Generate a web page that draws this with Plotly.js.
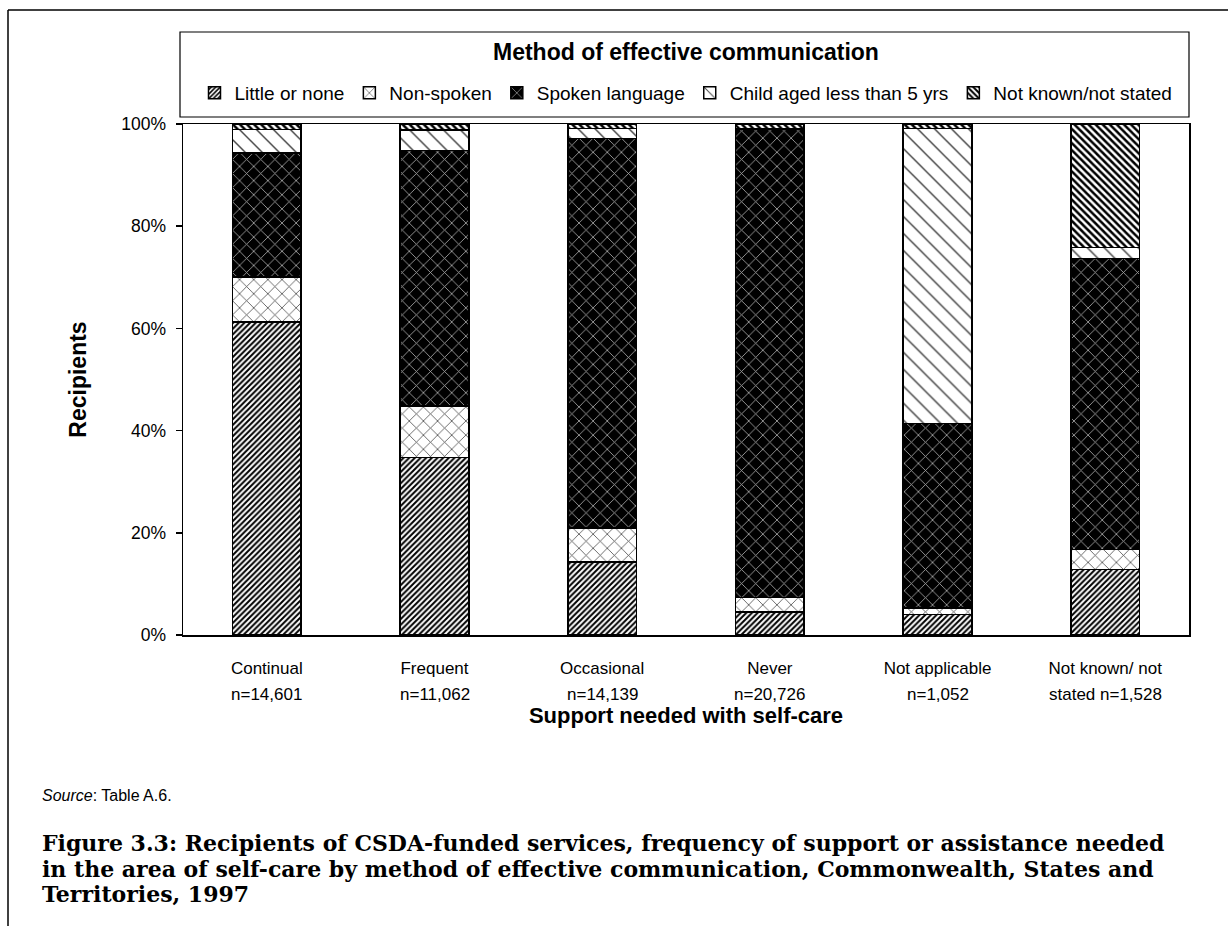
<!DOCTYPE html>
<html>
<head>
<meta charset="utf-8">
<script src="https://cdn.plot.ly/plotly-3.0.1.min.js"></script>
<style>html,body{margin:0;padding:0;background:#fff;}#chart{width:1228px;height:926px;}</style>
</head>
<body>
<div id="chart"></div>
<script>
// ---- data ----
const tickLine1 = ["Continual", "Frequent", "Occasional", "Never", "Not applicable", "Not known/ not"];
const tickLine2 = ["n=14,601", "n=11,062", "n=14,139", "n=20,726", "n=1,052", "stated n=1,528"];
const categories = ["Continual", "Frequent", "Occasional", "Never", "Not applicable", "Not known/not stated"];
const seriesNames = ["Little or none", "Non-spoken", "Spoken language", "Child aged less than 5 yrs", "Not known/not stated"];
const littleOrNone   = [61.3, 34.7, 14.3,  4.5,  4.0, 12.8];
const nonSpoken      = [ 8.8, 10.1,  6.6,  2.8,  1.3,  3.9];
const spokenLanguage = [24.2, 50.0, 76.3, 91.6, 36.1, 57.0];
const childUnder5    = [ 4.6,  4.0,  1.9,  0.2, 57.7,  2.1];
const notKnown       = [ 1.1,  1.2,  0.9,  0.9,  0.9, 24.2];
const yTickVals = [0, 20, 40, 60, 80, 100];
const captionLines = [
  "Figure 3.3: Recipients of CSDA-funded services, frequency of support or assistance needed",
  "in the area of self-care by method of effective communication, Commonwealth, States and",
  "Territories, 1997"
];

// ---- styling ----
const patterns = [
  {shape: "/",  fgcolor: "#000", bgcolor: "#fff", size: 4,  solidity: 0.5},
  {shape: "x",  fgcolor: "#444", bgcolor: "#fff", size: 10, solidity: 0.15},
  {shape: "x",  fgcolor: "#aaa", bgcolor: "#000", size: 10, solidity: 0.16},
  {shape: "\\", fgcolor: "#444", bgcolor: "#fff", size: 12, solidity: 0.12},
  {shape: "\\", fgcolor: "#000", bgcolor: "#fff", size: 5,  solidity: 0.5}
];
const seriesValues = [littleOrNone, nonSpoken, spokenLanguage, childUnder5, notKnown];

const traces = seriesValues.map((vals, i) => ({
  type: "bar",
  name: seriesNames[i],
  x: categories,
  y: vals,
  marker: {
    color: patterns[i].bgcolor,
    line: {color: "#000", width: 1.5},
    pattern: patterns[i]
  },
  hoverinfo: "name+y"
}));

const FONT = "Liberation Sans, Arial, sans-serif";
const L = 183, R = 39, T = 124, B = 291, W = 1228, H = 926;
const PW = W - L - R, PH = H - T - B;
const px = x => (x - L) / PW;
const py = y => (H - B - y) / PH;

const annotations = [
  {text: "<b>Method of effective communication</b>", xref: "paper", yref: "paper",
   x: 0.5, y: py(52), xanchor: "center", yanchor: "middle", showarrow: false,
   font: {family: FONT, size: 23, color: "#000"}},
  {text: "<i>Source</i>: Table A.6.", xref: "paper", yref: "paper",
   x: px(40), y: py(795), xanchor: "left", yanchor: "middle", showarrow: false,
   font: {family: FONT, size: 16, color: "#000"}}
];
// second line of category labels
tickLine2.forEach((t, i) => annotations.push({
  text: t, xref: "x", yref: "paper", x: categories[i], y: py(694),
  xanchor: "center", yanchor: "middle", showarrow: false,
  font: {family: FONT, size: 17, color: "#000"}
}));
// caption
captionLines.forEach((t, i) => annotations.push({
  text: "<b>" + t + "</b>", xref: "paper", yref: "paper",
  x: px(40), y: py(843 + i * 25.5), xanchor: "left", yanchor: "middle",
  align: "left", showarrow: false,
  font: {family: "DejaVu Serif, serif", size: 22, color: "#000"}
}));

const layout = {
  width: W, height: H,
  margin: {l: L, r: R, t: T, b: B, pad: 0},
  paper_bgcolor: "#fff",
  plot_bgcolor: "#fff",
  barmode: "stack",
  bargap: 0.59,
  font: {family: FONT, color: "#000", size: 17},
  showlegend: true,
  legend: {
    orientation: "h",
    x: 0.5, xanchor: "center",
    y: py(93), yanchor: "middle",
    traceorder: "normal",
    font: {family: FONT, size: 19, color: "#000"},
    bgcolor: "rgba(0,0,0,0)",
    borderwidth: 0
  },
  xaxis: {
    tickmode: "array",
    tickvals: categories,
    ticktext: tickLine1,
    tickfont: {family: FONT, size: 17},
    ticks: "",
    ticklabelstandoff: 17,
    showline: true, linecolor: "#000", linewidth: 1.5,
    mirror: true,
    showgrid: false,
    zeroline: false,
    title: {text: "<b>Support needed with self-care</b>", font: {family: FONT, size: 22}, standoff: 30}
  },
  yaxis: {
    range: [0, 100],
    tickvals: yTickVals,
    ticktext: yTickVals.map(v => v + "%"),
    ticks: "outside", ticklen: 6, tickcolor: "#000", tickwidth: 1.5,
    ticklabelstandoff: 6,
    tickfont: {family: FONT, size: 17.5},
    showline: true, linecolor: "#000", linewidth: 1.5,
    mirror: true,
    showgrid: false,
    zeroline: false,
    title: {text: "<b>Recipients</b>", font: {family: FONT, size: 23}, standoff: 28}
  },
  shapes: [
    {type: "rect", xref: "paper", yref: "paper", x0: px(180), x1: px(1189), y0: py(117), y1: py(32),
     line: {color: "#000", width: 1.2}, fillcolor: "rgba(0,0,0,0)"},
    {type: "line", xref: "paper", yref: "paper", x0: px(8), x1: px(1228), y0: py(10), y1: py(10),
     line: {color: "#000", width: 1.5}},
    {type: "line", xref: "paper", yref: "paper", x0: px(8), x1: px(8), y0: py(10), y1: py(926),
     line: {color: "#000", width: 1.5}}
  ],
  annotations: annotations
};

Plotly.newPlot("chart", traces, layout, {displayModeBar: false, staticPlot: true});
</script>
</body>
</html>
